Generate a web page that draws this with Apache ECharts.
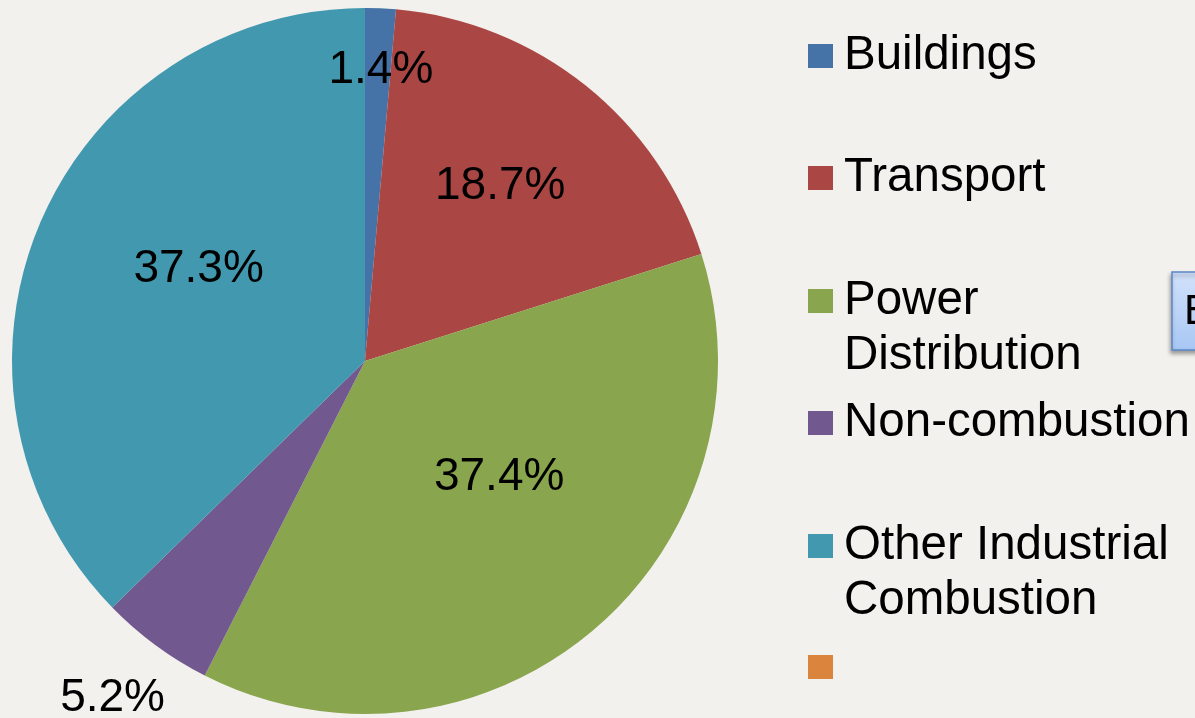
<!DOCTYPE html>
<html>
<head>
<meta charset="utf-8">
<script src="https://cdn.jsdelivr.net/npm/echarts@6/dist/echarts.min.js"></script>
<style>
  html, body {margin: 0; padding: 0; background: #f3f1ed;}
  #main {width: 1195px; height: 718px;}
</style>
</head>
<body>
<div id="main"></div>
<script>
// emission share by sector (%), pie goes clockwise from 12 o'clock
var sectors = ['Buildings', 'Transport', 'Power Distribution', 'Non-combustion', 'Other Industrial Combustion', '(blank)'];
var legendText = ['Buildings', 'Transport', 'Power\nDistribution', 'Non-combustion', 'Other Industrial\nCombustion', ' '];
var shares = [1.4, 18.7, 37.4, 5.2, 37.3, 0];
var colors = ['#4572a7', '#aa4643', '#89a54e', '#71588f', '#4198af', '#db843d'];

// label nudges away from the default mid-radius spot (Excel "best fit")
var labelNudge = [[8, -111], [23, -35], [18, -21], [-146, 193], [-1, -22], [0, 0]];
// legend entry icon centres (y)
var legendY = [55, 177, 300, 422, 545, 666];

var font = '"Liberation Sans", Arial, sans-serif';

var legends = sectors.map(function (name, i) {
  var twoLines = legendText[i].indexOf('\n') >= 0;
  return {
    data: [name],
    orient: 'vertical',
    left: 808,
    // a blank first line keeps the icon level with the first text line
    top: (twoLines ? legendY[i] - 82.5 : legendY[i] - 27.5) + 1,
    padding: 0,
    itemWidth: 25,
    itemHeight: 24,
    icon: 'rect',
    selectedMode: false,
    formatter: function () { return twoLines ? '\n' + legendText[i] : legendText[i]; },
    textStyle: {
      fontFamily: font,
      fontSize: 47.5,
      lineHeight: 55,
      color: '#000',
      padding: [0, 0, 0, 6]
    }
  };
});

var chart = echarts.init(document.getElementById('main'));
chart.setOption({
  backgroundColor: '#f3f1ed',
  animation: false,
  color: colors,
  legend: legends,
  series: [{
    type: 'pie',
    center: [365, 361],
    radius: 353,
    startAngle: 90,
    clockwise: true,
    avoidLabelOverlap: false,
    itemStyle: {borderWidth: 0},
    label: {
      show: true,
      position: 'inside',
      fontFamily: font,
      fontSize: 46,
      color: '#000',
      formatter: function (p) { return p.value.toFixed(1) + '%'; }
    },
    labelLine: {show: false},
    labelLayout: function (p) {
      return {dx: labelNudge[p.dataIndex][0], dy: labelNudge[p.dataIndex][1]};
    },
    data: sectors.map(function (name, i) {
      var d = {name: name, value: shares[i]};
      if (!shares[i]) d.label = {show: false};
      return d;
    })
  }],
  graphic: [{
    type: 'rect',
    shape: {x: 1172, y: 272, width: 60, height: 78},
    style: {
      fill: new echarts.graphic.LinearGradient(0, 0, 0, 1, [
        {offset: 0, color: '#d2e2fb'},
        {offset: 1, color: '#a8c7f4'}
      ]),
      stroke: '#5b88c9',
      lineWidth: 1.5,
      shadowBlur: 4,
      shadowOffsetX: -1,
      shadowOffsetY: 3,
      shadowColor: 'rgba(0,0,0,0.35)'
    }
  }, {
    type: 'text',
    x: 1184,
    y: 312,
    style: {
      text: 'E',
      fontFamily: font,
      fontSize: 42,
      fill: '#000',
      verticalAlign: 'middle'
    }
  }]
});
</script>
</body>
</html>
